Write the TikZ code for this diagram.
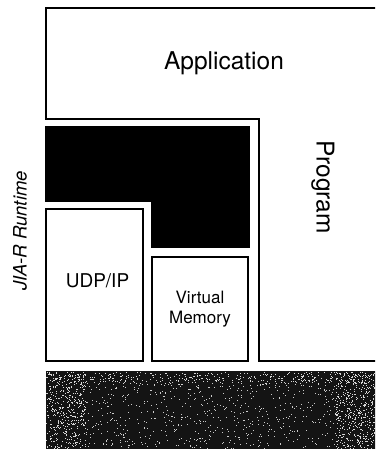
\documentclass[tikz,border=0pt]{standalone}
\usepackage{fontspec}
\setmainfont{TeX Gyre Heros}
\begin{document}
\begin{tikzpicture}[x=1bp,y=-1bp,
  layer/.style={draw=black,line width=1.8bp,line join=miter},
  solid layer/.style={fill=black,draw=black,line width=1.2bp},
  bigtext/.style={font=\fontsize{24.5bp}{28bp}\selectfont,inner sep=0pt},
  midtext/.style={font=\fontsize{19bp}{22bp}\selectfont,inner sep=0pt},
  smalltext/.style={font=\fontsize{17bp}{20bp}\selectfont,inner sep=0pt,align=center},
  sidetext/.style={font=\fontsize{18.5bp}{22bp}\itshape\selectfont,inner sep=0pt}]
\useasboundingbox (0,0) rectangle (375,449);
\clip (0,0) rectangle (375,449);
\fill[white] (0,0) rectangle (375,449);

% Application / Program block (L-shaped, runs off the right edge)
\draw[layer] (390,8) -- (46,8) -- (46,119) -- (259,119) -- (259,361) -- (390,361);

% Runtime core (solid L-shape)
\draw[solid layer] (46,127) -- (249,127) -- (249,247) -- (152,247) -- (152,201) -- (46,201) -- cycle;

% Runtime sub-modules
\draw[layer] (46,209) rectangle (143,361);
\draw[layer] (152,257) rectangle (248,361);

% Operating system / hardware layer, speckled dark fill
\fill[black!92] (46,371) rectangle (390,449);
\pgfmathsetseed{4217}
\foreach \i in {1,...,900}{
  \pgfmathsetmacro{\px}{46+rnd*329}
  \pgfmathsetmacro{\py}{372+rnd*77}
  \fill[white!80!black] (\px,\py) rectangle ++(1,1);
}
\foreach \i in {1,...,350}{
  \pgfmathsetmacro{\px}{46+rnd*40}
  \pgfmathsetmacro{\py}{372+rnd*77}
  \fill[white!85!black] (\px,\py) rectangle ++(1,1);
}
\foreach \i in {1,...,350}{
  \pgfmathsetmacro{\px}{335+rnd*40}
  \pgfmathsetmacro{\py}{372+rnd*77}
  \fill[white!85!black] (\px,\py) rectangle ++(1,1);
}
\foreach \i in {1,...,300}{
  \pgfmathsetmacro{\px}{46+rnd*329}
  \pgfmathsetmacro{\py}{372+rnd*12}
  \fill[white!85!black] (\px,\py) rectangle ++(1,1);
}

% Labels
\node[bigtext] (app) at (224,63) {Application};
\node[bigtext,rotate=-90] (prog) at (323,187) {Program};
\node[midtext] (udp) at (97.5,281) {UDP/IP};
\node[smalltext] (vm) at (200,309) {Virtual\\Memory};
\node[sidetext,rotate=90] (rt) at (20,231) {JIA-R Runtime};
\end{tikzpicture}
\end{document}
